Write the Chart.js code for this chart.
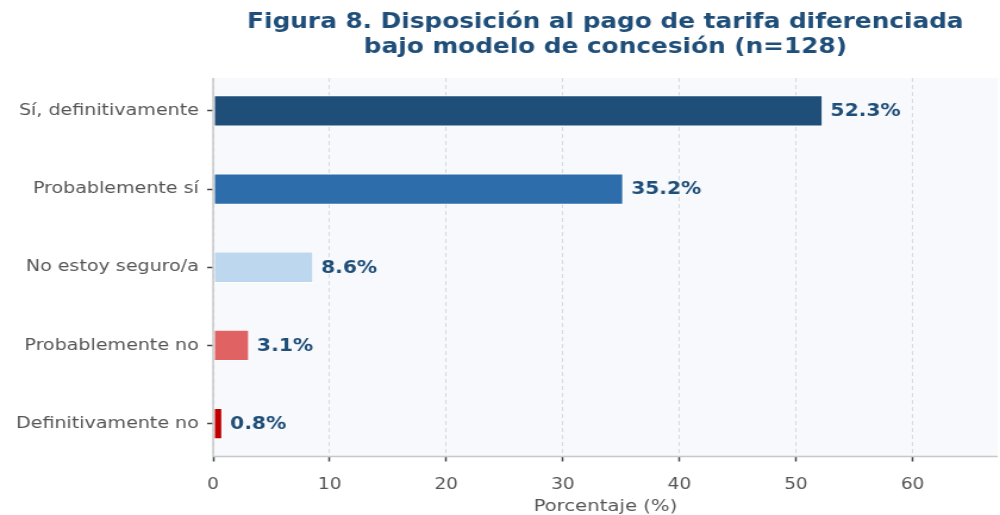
<!DOCTYPE html>
<html>
<head>
<meta charset="utf-8">
<script src="https://cdn.jsdelivr.net/npm/chart.js@4"></script>
<style>
  html, body { margin: 0; padding: 0; background: #fff; overflow: hidden; }
  /* the reference figure is stretched horizontally, so draw narrow and widen */
  #wrap { width: 840px; height: 515px; transform: scaleX(1.1905); transform-origin: 0 0; }
</style>
</head>
<body>
<div id="wrap"><canvas id="chart" width="840" height="515"></canvas></div>
<script>
// data
var categories = ['Sí, definitivamente', 'Probablemente sí', 'No estoy seguro/a', 'Probablemente no', 'Definitivamente no'];
var percentages = [52.3, 35.2, 8.6, 3.1, 0.8];
var barColors = ['#1f4e79', '#2e6dab', '#bdd7ee', '#e06262', '#c00000'];
var xTicks = [0, 10, 20, 30, 40, 50, 60];
var titleLines = ['Figura 8. Disposición al pago de tarifa diferenciada', 'bajo modelo de concesión (n=128)'];

var FONT = '"DejaVu Sans", sans-serif';

var points = percentages.map(function(v, i) { return { x: v, y: i }; });

// plot background, spines, title and value labels
var decorPlugin = {
  id: 'decor',
  beforeDraw: function(chart) {
    var ctx = chart.ctx, a = chart.chartArea;
    ctx.save();
    ctx.fillStyle = '#f7f9fc';
    ctx.fillRect(a.left, a.top, a.right - a.left, a.bottom - a.top);
    ctx.restore();
  },
  afterDatasetsDraw: function(chart) {
    var ctx = chart.ctx, a = chart.chartArea;
    ctx.save();
    ctx.strokeStyle = '#c8c8c8';
    ctx.lineWidth = 1.5;
    ctx.beginPath();
    ctx.moveTo(a.left, a.top);
    ctx.lineTo(a.left, a.bottom);
    ctx.lineTo(a.right, a.bottom);
    ctx.stroke();
    ctx.restore();
  },
  afterDraw: function(chart) {
    var ctx = chart.ctx, a = chart.chartArea;
    ctx.save();
    ctx.fillStyle = '#1f4e79';
    ctx.font = 'bold 20.8px ' + FONT;
    ctx.textAlign = 'center';
    ctx.textBaseline = 'middle';
    var cx = (a.left + a.right) / 2;
    ctx.fillText(titleLines[0], cx, 23);
    ctx.fillText(titleLines[1], cx, 48);

    ctx.font = 'bold 17px ' + FONT;
    ctx.textAlign = 'left';
    var meta = chart.getDatasetMeta(0);
    meta.data.forEach(function(bar, i) {
      ctx.fillText(percentages[i].toFixed(1) + '%', bar.x + 6.5, bar.y + 1);
    });
    ctx.restore();
  }
};

var ctx = document.getElementById('chart').getContext('2d');
new Chart(ctx, {
  type: 'bar',
  data: {
    datasets: [{
      data: points,
      backgroundColor: barColors,
      borderColor: '#ffffff',
      borderWidth: 1,
      borderSkipped: false,
      barPercentage: 0.4,
      categoryPercentage: 1.0
    }]
  },
  options: {
    indexAxis: 'y',
    responsive: false,
    animation: false,
    layout: { padding: { top: 78, right: 2, left: 0, bottom: 0 } },
    plugins: {
      legend: { display: false },
      tooltip: { enabled: false }
    },
    scales: {
      x: {
        type: 'linear',
        min: 0,
        max: 67.3,
        afterBuildTicks: function(scale) {
          scale.ticks = xTicks.map(function(v) { return { value: v }; });
        },
        afterFit: function(scale) { scale.height = 58.5; },
        grid: {
          color: '#d6d9de',
          tickColor: '#444',
          tickWidth: 1.5,
          tickBorderDash: [],
          tickLength: 5
        },
        border: { display: false, dash: [4, 3] },
        ticks: { color: '#555', font: { family: FONT, size: 15.5 }, padding: 14 },
        title: {
          display: true,
          text: 'Porcentaje (%)',
          color: '#555',
          font: { family: FONT, size: 16.5 },
          padding: { top: 0, bottom: -2 }
        }
      },
      y: {
        type: 'linear',
        reverse: true,
        offset: false,
        min: -0.42,
        max: 4.42,
        afterBuildTicks: function(scale) {
          scale.ticks = categories.map(function(c, i) { return { value: i }; });
        },
        afterFit: function(scale) { scale.width = 179; },
        grid: {
          offset: false,
          drawOnChartArea: false,
          tickColor: '#444',
          tickWidth: 1.5,
          tickLength: 5
        },
        border: { display: false },
        ticks: {
          color: '#555',
          font: { family: FONT, size: 16 },
          padding: 7,
          callback: function(value) { return categories[value]; }
        }
      }
    }
  },
  plugins: [decorPlugin]
});
</script>
</body>
</html>
